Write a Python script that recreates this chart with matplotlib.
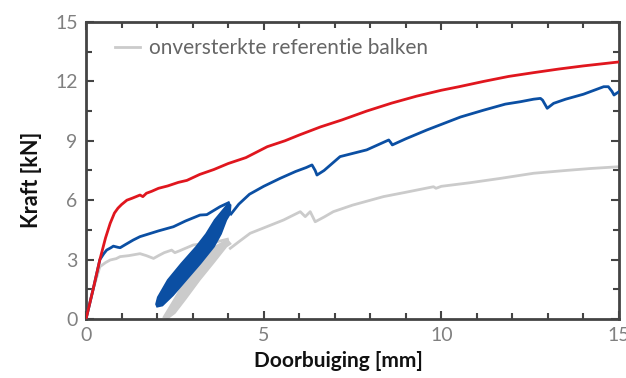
import matplotlib
matplotlib.use("Agg")
import matplotlib.pyplot as plt
from matplotlib.ticker import MultipleLocator

plt.rcParams['font.family'] = ['Lato', 'DejaVu Sans']

# ---- data (deflection mm, force kN) ----
red_x = [0, 0.2, 0.39, 0.55, 0.68, 0.8, 0.9, 1.0, 1.15, 1.3, 1.52, 1.6, 1.7, 1.85, 2.04, 2.3,
         2.6, 2.84, 3.2, 3.6, 4.0, 4.5, 5.1, 5.6, 6.0, 6.6, 7.2, 7.9, 8.6, 9.3, 10.0, 10.5,
         11.2, 11.9, 12.6, 13.3, 14.0, 14.5, 15.0]
red_f = [0, 1.5, 3.0, 4.1, 4.83, 5.35, 5.6, 5.78, 6.0, 6.1, 6.26, 6.18, 6.35, 6.45, 6.6, 6.72,
         6.9, 7.0, 7.3, 7.55, 7.85, 8.15, 8.7, 9.0, 9.29, 9.7, 10.05, 10.5, 10.9, 11.25, 11.55,
         11.73, 12.0, 12.25, 12.44, 12.62, 12.78, 12.88, 12.98]

blue_x = [0, 0.2, 0.39, 0.5, 0.58, 0.7, 0.77, 0.9, 0.96, 1.1, 1.33, 1.52, 2.04, 2.46, 2.8,
          3.21, 3.4, 3.77, 4.01]
blue_f = [0, 1.5, 3.0, 3.3, 3.48, 3.6, 3.68, 3.62, 3.6, 3.75, 3.99, 4.16, 4.45, 4.66, 4.95,
          5.25, 5.27, 5.67, 5.87]
blue2_x = [4.08, 4.3, 4.6, 5.0, 5.46, 5.9, 6.2, 6.36, 6.45, 6.5, 6.7, 7.15, 7.9, 8.52, 8.58,
           8.62, 9.0, 9.6, 10.54, 11.2, 11.8, 12.22, 12.6, 12.79, 12.85, 12.98, 13.16, 13.5,
           14.0, 14.57, 14.7, 14.8, 14.86, 15.0]
blue2_f = [5.3, 5.8, 6.3, 6.7, 7.1, 7.45, 7.65, 7.78, 7.5, 7.27, 7.5, 8.2, 8.54, 9.04, 8.9,
           8.79, 9.1, 9.55, 10.2, 10.55, 10.85, 10.97, 11.1, 11.14, 11.05, 10.64, 10.89, 11.1,
           11.35, 11.73, 11.73, 11.5, 11.31, 11.48]
# cyclic loading band (hysteresis envelope)
blue_cyc_x = [1.97, 2.02, 2.3, 2.68, 3.1, 3.38, 3.62, 3.85, 4.01, 4.07, 4.05, 3.95, 3.8,
              3.6, 3.22, 2.82, 2.45, 2.15, 2.0, 1.97]
blue_cyc_f = [0.75, 1.1, 1.97, 2.8, 3.65, 4.3, 5.0, 5.5, 5.85, 5.75, 5.3, 5.0, 4.3, 3.65,
              2.8, 1.97, 1.2, 0.68, 0.62, 0.75]

grey_x = [0, 0.2, 0.39, 0.55, 0.68, 0.85, 0.96, 1.2, 1.52, 1.7, 1.9, 2.04, 2.2, 2.41, 2.5,
          2.6, 3.02, 3.3, 3.68, 3.98]
grey_f = [0, 1.5, 2.64, 2.85, 2.98, 3.05, 3.15, 3.2, 3.3, 3.2, 3.06, 3.2, 3.35, 3.48, 3.35,
          3.42, 3.74, 3.8, 3.9, 4.03]
grey2_x = [4.06, 4.3, 4.62, 5.0, 5.56, 6.03, 6.17, 6.31, 6.45, 6.7, 6.96, 7.5, 8.37, 9.0, 9.78,
           9.85, 10.0, 10.8, 11.66, 12.6, 13.5, 14.2, 15.0]
grey2_f = [3.57, 3.9, 4.33, 4.6, 5.0, 5.42, 5.17, 5.42, 4.91, 5.15, 5.42, 5.75, 6.18, 6.4, 6.68,
           6.6, 6.7, 6.88, 7.1, 7.36, 7.5, 7.6, 7.69]
grey_cyc_x = [2.18, 2.45, 2.8, 3.19, 3.62, 3.98, 4.07, 3.95, 3.58, 3.2, 2.8, 2.5, 2.3, 2.18]
grey_cyc_f = [0.1, 0.9, 1.97, 2.81, 3.65, 4.0, 3.8, 3.65, 2.81, 1.97, 1.0, 0.3, 0.03, 0.1]

legend_label = "onversterkte referentie balken"
x_ticks = [0, 5, 10, 15]
y_ticks = [0, 3, 6, 9, 12, 15]

RED = "#e0161e"
BLUE = "#0b4fa3"
GREY = "#cbcbcb"

fig = plt.figure(figsize=(6.26, 3.78), dpi=100)
ax = fig.add_axes([0.1374, 0.156, 0.8514, 0.786])

lw = 2.0
ax.fill(grey_cyc_x, grey_cyc_f, color=GREY, lw=1.2, zorder=1)
ax.plot(grey_x, grey_f, color=GREY, lw=lw, zorder=2, label=legend_label)
ax.plot(grey2_x, grey2_f, color=GREY, lw=lw, zorder=2)
ax.fill(blue_cyc_x, blue_cyc_f, color=BLUE, lw=1.2, zorder=3)
ax.plot(blue_x, blue_f, color=BLUE, lw=lw, zorder=4)
ax.plot(blue2_x, blue2_f, color=BLUE, lw=lw, zorder=4)
ax.plot(red_x, red_f, color=RED, lw=lw, zorder=5)

ax.set_xlim(0, 15)
ax.set_ylim(0, 15)
ax.set_xticks(x_ticks)
ax.set_yticks(y_ticks)
ax.xaxis.set_minor_locator(MultipleLocator(1))
ax.yaxis.set_minor_locator(MultipleLocator(1.5))
ax.tick_params(which='both', direction='in', top=True, right=True, color='#444444',
               labelcolor='#808080', labelsize=14, width=1.5)
ax.tick_params(which='major', length=6, pad=6)
ax.tick_params(which='minor', length=4)
for s in ax.spines.values():
    s.set_color('#444444')
    s.set_linewidth(2.0)

ax.set_xlabel("Doorbuiging [mm]", fontsize=15, fontweight='bold', color='#111111')
ax.set_ylabel("Kraft [kN]", fontsize=15.5, fontweight='bold', color='#111111')
ax.xaxis.set_label_coords(0.473, -0.108)
ax.yaxis.set_label_coords(-0.082, 0.468)

leg = ax.legend(loc='upper left', frameon=False, fontsize=15, handlelength=1.2,
                handletextpad=0.45, borderaxespad=0, borderpad=0,
                bbox_to_anchor=(0.054, 0.945))
for t in leg.get_texts():
    t.set_color('#666666')

fig.savefig("out.png", dpi=100)
